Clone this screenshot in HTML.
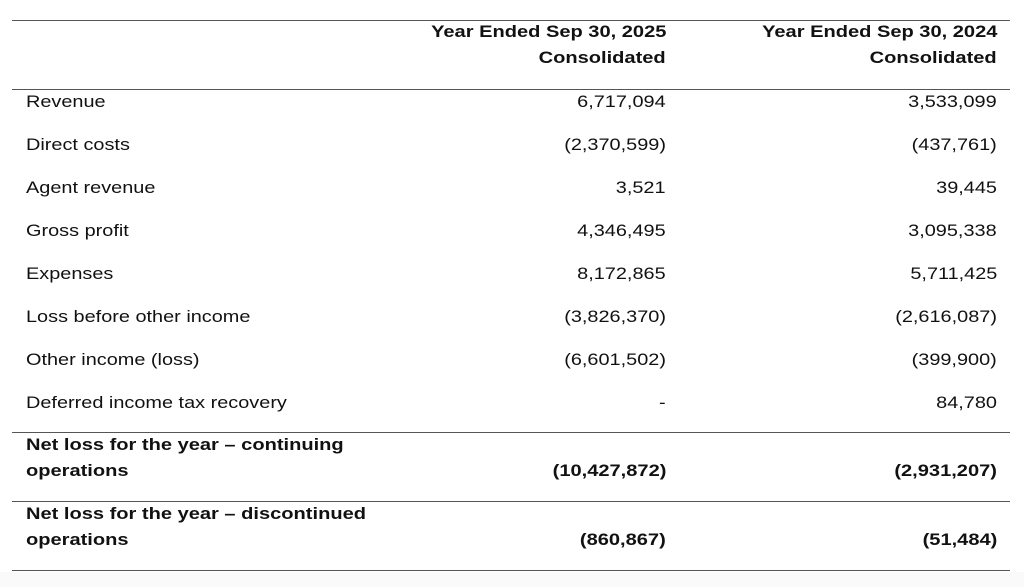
<!DOCTYPE html>
<html><head><meta charset="utf-8"><style>
html,body{margin:0;padding:0;background:#fff;width:1024px;height:587px;overflow:hidden;position:relative;font-family:"Liberation Sans",Arial,sans-serif;color:#111;}
.l{position:absolute;left:12px;width:998px;height:0;border-top:1.5px solid #555;}
.t{position:absolute;font-size:17px;line-height:20px;white-space:nowrap;transform:scaleX(1.17);}
.lab{left:26px;transform-origin:left center;}
.c1{right:358px;text-align:right;transform-origin:right center;}
.c2{right:27px;text-align:right;transform-origin:right center;}
.b{font-weight:bold;}
.b.t{transform:scaleX(1.18);}
</style></head><body>
<div class="l" style="top:20px"></div>
<div class="l" style="top:89px"></div>
<div class="l" style="top:432px"></div>
<div class="l" style="top:501px"></div>
<div class="l" style="top:570px"></div>
<div style="position:absolute;left:0;top:572px;width:1024px;height:15px;background:#fafafa"></div>

<div class="t b c1" style="top:22px">Year Ended Sep 30, 2025</div>
<div class="t b c1" style="top:48px">Consolidated</div>
<div class="t b c2" style="top:22px">Year Ended Sep 30, 2024</div>
<div class="t b c2" style="top:48px">Consolidated</div>

<div class="t lab" style="top:92px">Revenue</div><div class="t c1" style="top:92px">6,717,094</div><div class="t c2" style="top:92px">3,533,099</div>
<div class="t lab" style="top:135px">Direct costs</div><div class="t c1" style="top:135px">(2,370,599)</div><div class="t c2" style="top:135px">(437,761)</div>
<div class="t lab" style="top:178px">Agent revenue</div><div class="t c1" style="top:178px">3,521</div><div class="t c2" style="top:178px">39,445</div>
<div class="t lab" style="top:221px">Gross profit</div><div class="t c1" style="top:221px">4,346,495</div><div class="t c2" style="top:221px">3,095,338</div>
<div class="t lab" style="top:264px">Expenses</div><div class="t c1" style="top:264px">8,172,865</div><div class="t c2" style="top:264px">5,711,425</div>
<div class="t lab" style="top:307px">Loss before other income</div><div class="t c1" style="top:307px">(3,826,370)</div><div class="t c2" style="top:307px">(2,616,087)</div>
<div class="t lab" style="top:350px">Other income (loss)</div><div class="t c1" style="top:350px">(6,601,502)</div><div class="t c2" style="top:350px">(399,900)</div>
<div class="t lab" style="top:393px">Deferred income tax recovery</div><div class="t c1" style="top:393px">-</div><div class="t c2" style="top:393px">84,780</div>

<div class="t lab b" style="top:435px">Net loss for the year – continuing</div>
<div class="t lab b" style="top:461px">operations</div>
<div class="t c1 b" style="top:461px">(10,427,872)</div><div class="t c2 b" style="top:461px">(2,931,207)</div>

<div class="t lab b" style="top:504px">Net loss for the year – discontinued</div>
<div class="t lab b" style="top:530px">operations</div>
<div class="t c1 b" style="top:530px">(860,867)</div><div class="t c2 b" style="top:530px">(51,484)</div>
</body></html>
